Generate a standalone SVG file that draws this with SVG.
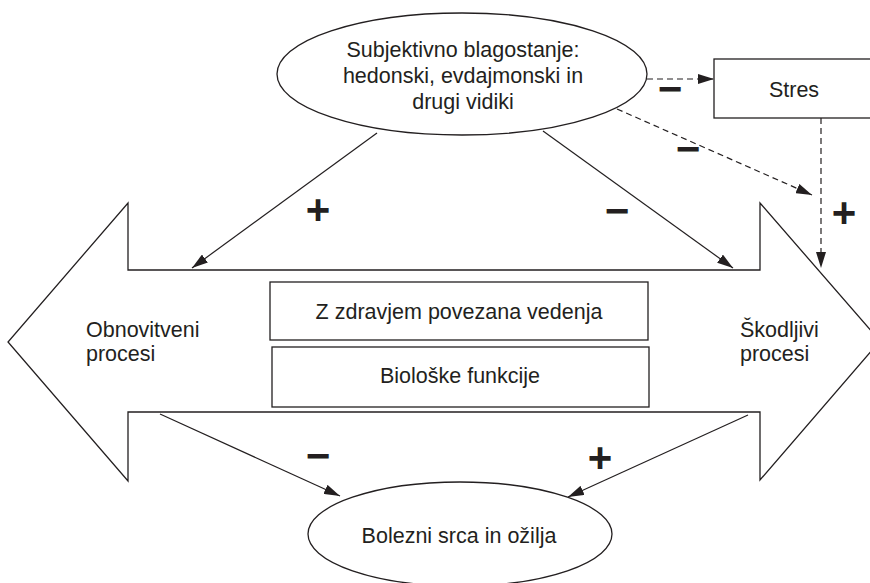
<svg xmlns="http://www.w3.org/2000/svg" width="870" height="583" viewBox="0 0 870 583">
  <style>
    .shape { fill: #ffffff; stroke: #231f20; stroke-width: 1.3; }
    .label { font-family: "Liberation Sans", Arial, sans-serif; font-size: 21.5px; fill: #231f20; }
    .mid { text-anchor: middle; }
    .sign { font-family: "Liberation Sans", Arial, sans-serif; font-weight: bold; font-size: 42px; fill: #231f20; text-anchor: middle; }
    .link { fill: none; stroke: #231f20; stroke-width: 1.2; marker-end: url(#head); }
    .dash { stroke-dasharray: 6 4; }
  </style>
  <defs>
    <marker id="head" viewBox="0 0 16 10" refX="16" refY="5" markerWidth="16" markerHeight="10" markerUnits="userSpaceOnUse" orient="auto">
      <path d="M0,0 L16,5 L0,10 Z" fill="#231f20"/>
    </marker>
  </defs>

  <rect width="870" height="583" fill="#ffffff"/>

  <!-- double-headed process arrow -->
  <g id="processes">
    <path class="shape" d="M128,270 L128,203 L8,342 L128,481 L128,412 L760,412 L760,480 L880,341 L760,203 L760,270 Z"/>
    <text class="label" x="86" y="337">Obnovitveni</text>
    <text class="label" x="86" y="361">procesi</text>
    <text class="label" x="740" y="337">Škodljivi</text>
    <text class="label" x="740" y="361">procesi</text>
  </g>

  <g id="behaviours">
    <rect class="shape" x="270" y="282" width="378" height="58"/>
    <text class="label mid" x="459" y="319">Z zdravjem povezana vedenja</text>
  </g>

  <g id="biology">
    <rect class="shape" x="272" y="347" width="377" height="60"/>
    <text class="label mid" x="460" y="383">Biološke funkcije</text>
  </g>

  <g id="wellbeing">
    <ellipse class="shape" cx="462" cy="74" rx="185" ry="61"/>
    <text class="label mid" x="463" y="57">Subjektivno blagostanje:</text>
    <text class="label mid" x="463" y="83">hedonski, evdajmonski in</text>
    <text class="label mid" x="463" y="109">drugi vidiki</text>
  </g>

  <g id="stress">
    <rect class="shape" x="714" y="59" width="170" height="59"/>
    <text class="label mid" x="794" y="97">Stres</text>
  </g>

  <g id="disease">
    <ellipse class="shape" cx="460" cy="534" rx="152" ry="52"/>
    <text class="label mid" x="459" y="543">Bolezni srca in ožilja</text>
  </g>

  <!-- connectors -->
  <g id="connectors">
    <path class="link" d="M377,133 L192,268"/>
    <path class="link" d="M543,131 L733,268"/>
    <path class="link dash" d="M647,79 L714,79"/>
    <path class="link dash" d="M617,109 L812,195"/>
    <path class="link dash" d="M821,118 L821,268"/>
    <path class="link" d="M160,414 L340,496"/>
    <path class="link" d="M748,415 L568,497"/>
  </g>

  <!-- effect signs -->
  <g id="signs">
    <text class="sign" x="318" y="224">+</text>
    <text class="sign" x="617" y="225">−</text>
    <text class="sign" x="670" y="103">−</text>
    <text class="sign" x="688" y="163">−</text>
    <text class="sign" x="844" y="227">+</text>
    <text class="sign" x="318" y="470">−</text>
    <text class="sign" x="600" y="472">+</text>
  </g>
</svg>
